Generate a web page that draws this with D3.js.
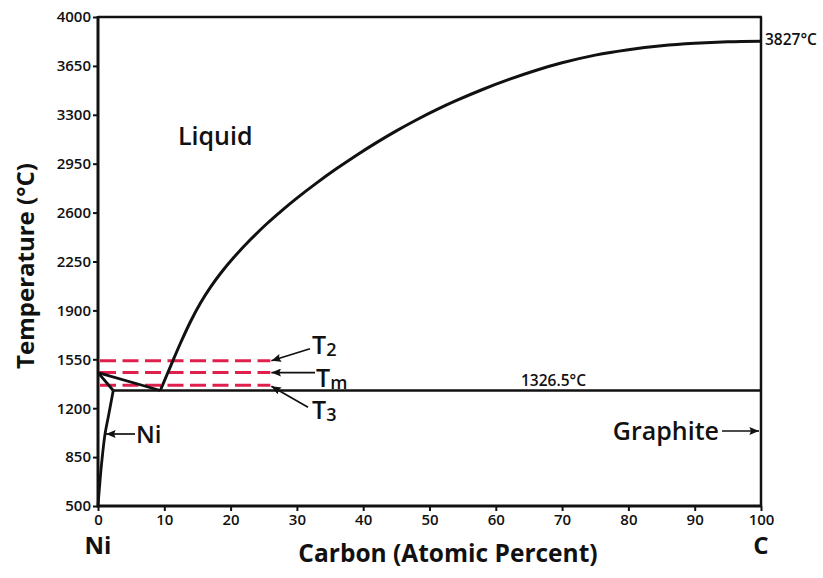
<!DOCTYPE html>
<html><head><meta charset="utf-8">
<script src="https://cdn.jsdelivr.net/npm/d3@7"></script>
<style>
body{margin:0;background:#fff;}
text{font-family:"Open Sans",sans-serif;fill:#111;}
</style></head>
<body><svg id="c" width="823" height="578"></svg>
<script>
// ---- data ----
const xTicks = [0,10,20,30,40,50,60,70,80,90,100];
const yTicks = [500,850,1200,1550,1900,2250,2600,2950,3300,3650,4000];
// liquidus (graphite side): [at% C, T]
const liquidusC = [[9.4,1326.5],[11,1507],[12.5,1672],[14,1824],[15.5,1956],[17,2068],[18.5,2166],[20.5,2280],[23,2407],[25.5,2522],[27.9,2622],[30,2704],[33,2813],[36,2915],[39,3011],[42,3101],[45,3185],[48,3263],[51,3335],[54,3401],[58,3481],[62,3553],[66,3617],[70,3672],[75,3727],[80,3766],[85,3794],[90,3812],[95,3823],[100,3827]];
// liquidus (Ni side)
const liquidusNi = [[0,1455],[9.4,1326.5]];
// solidus
const solidusNi = [[0,1455],[2.3,1326.5]];
// solvus
const solvusNi = [[2.3,1326.5],[1.6,1150],[1.06,1015],[0.55,808],[0.2,620],[0,500]];
// eutectic line
const eutectic = [[2.3,1326.5],[100,1326.5]];
// dashed temperatures
const dashedT = [{sub:"2",T:1540},{sub:"m",T:1455},{sub:"3",T:1365}];
const dashEnd = 26;

const svg = d3.select("#c");
const x = d3.scaleLinear().domain([0,100]).range([98,761]);
const y = d3.scaleLinear().domain([500,4000]).range([506,17]);

const defs = svg.append("defs");
defs.append("marker").attr("id","ah").attr("viewBox","0 0 12 10").attr("refX",12).attr("refY",5)
  .attr("markerWidth",12).attr("markerHeight",8).attr("markerUnits","userSpaceOnUse").attr("orient","auto")
  .append("path").attr("d","M0,0L12,5L0,10L2,5Z").attr("fill","#111");

// axes
const xAxis = svg.append("g").attr("transform",`translate(0,${y(500)})`)
  .call(d3.axisBottom(x).tickValues(xTicks).tickFormat(d3.format("d")).tickSize(5).tickPadding(3));
const yAxis = svg.append("g").attr("transform",`translate(${x(0)},0)`)
  .call(d3.axisLeft(y).tickValues(yTicks).tickFormat(d3.format("d")).tickSize(5).tickPadding(2));
[xAxis,yAxis].forEach(g=>{
  g.select(".domain").remove();
  g.selectAll(".tick line").attr("stroke","#111").attr("stroke-width",2);
  g.selectAll(".tick text").style("font-family","Open Sans").style("font-size","15px").style("font-weight","600").attr("fill","#222");
});
// frame
svg.append("line").attr("x1",x(0)).attr("x2",x(0)).attr("y1",y(4000)-1).attr("y2",y(500)+1.5).attr("stroke","#111").attr("stroke-width",3);
svg.append("line").attr("x1",x(0)).attr("x2",x(100)+1).attr("y1",y(500)).attr("y2",y(500)).attr("stroke","#111").attr("stroke-width",3);
svg.append("line").attr("x1",x(0)).attr("x2",x(100)+1).attr("y1",y(4000)).attr("y2",y(4000)).attr("stroke","#111").attr("stroke-width",2.5);
svg.append("line").attr("x1",x(100)).attr("x2",x(100)).attr("y1",y(4000)).attr("y2",y(500)).attr("stroke","#111").attr("stroke-width",2.5);

// dashed lines
svg.selectAll(".dash").data(dashedT).join("line")
  .attr("x1",x(0)+2).attr("x2",x(dashEnd)).attr("y1",d=>y(d.T)).attr("y2",d=>y(d.T))
  .attr("stroke","#e0204c").attr("stroke-width",3).attr("stroke-dasharray","16,6.5");

const line = d3.line().x(d=>x(d[0])).y(d=>y(d[1]));
const path = (data,curve,w)=>svg.append("path").attr("d",line.curve(curve)(data))
  .attr("fill","none").attr("stroke","#111").attr("stroke-width",w);
path(liquidusC,d3.curveCatmullRom.alpha(0.5),3);
path(liquidusNi,d3.curveLinear,2.8);
path(solidusNi,d3.curveLinear,2.8);
path(solvusNi,d3.curveCatmullRom,2.8);
path(eutectic,d3.curveLinear,2.5);

// arrows for T labels
const ax = x(dashEnd)+1;
const arrows = [
  {x1:310,y1:y(dashedT[0].T)-12,x2:ax,y2:y(dashedT[0].T)},
  {x1:315,y1:y(dashedT[1].T),x2:ax,y2:y(dashedT[1].T)},
  {x1:308,y1:y(dashedT[2].T)+22,x2:ax,y2:y(dashedT[2].T)+1}
];
svg.selectAll(".arr").data(arrows).join("line")
  .attr("x1",d=>d.x1).attr("y1",d=>d.y1).attr("x2",d=>d.x2).attr("y2",d=>d.y2)
  .attr("stroke","#111").attr("stroke-width",1.7).attr("marker-end","url(#ah)");
const tLab = [
  {sub:"2",x:312,y:354},
  {sub:"m",x:316,y:387},
  {sub:"3",x:312,y:419}
];
tLab.forEach(d=>{
  const t = svg.append("text").attr("x",d.x).attr("y",d.y).style("font-size","25px").style("font-weight","600");
  t.append("tspan").text("T");
  t.append("tspan").attr("dy",2).style("font-size","18px").text(d.sub);
});

// Ni arrow
svg.append("line").attr("x1",135).attr("y1",434).attr("x2",x(1.06)+1).attr("y2",434)
  .attr("stroke","#111").attr("stroke-width",1.7).attr("marker-end","url(#ah)");
svg.append("text").attr("x",136).attr("y",443).style("font-size","24px").style("font-weight","600").text("Ni");

// Graphite
svg.append("text").attr("x",719).attr("y",440).attr("text-anchor","end").style("font-size","25px").style("font-weight","600").text("Graphite");
svg.append("line").attr("x1",722).attr("y1",431).attr("x2",x(100)-2).attr("y2",431)
  .attr("stroke","#111").attr("stroke-width",1.7).attr("marker-end","url(#ah)");

// Liquid
svg.append("text").attr("x",178).attr("y",145).style("font-size","25px").style("font-weight","600").text("Liquid");
// temps
svg.append("text").attr("x",765).attr("y",45).style("font-size","15.5px").style("font-weight","600").text("3827°C");
svg.append("text").attr("x",521).attr("y",386).style("font-size","15.5px").style("font-weight","600").text("1326.5°C");

// axis titles
svg.append("text").attr("transform",`translate(34,${266}) rotate(-90)`).attr("text-anchor","middle")
  .style("font-size","24px").style("font-weight","700").text("Temperature (°C)");
svg.append("text").attr("x",448).attr("y",562).attr("text-anchor","middle")
  .style("font-size","24.5px").style("font-weight","700").text("Carbon (Atomic Percent)");
svg.append("text").attr("x",x(0)).attr("y",554).attr("text-anchor","middle").style("font-size","24px").style("font-weight","700").text("Ni");
svg.append("text").attr("x",x(100)).attr("y",554).attr("text-anchor","middle").style("font-size","24px").style("font-weight","700").text("C");
</script></body></html>
